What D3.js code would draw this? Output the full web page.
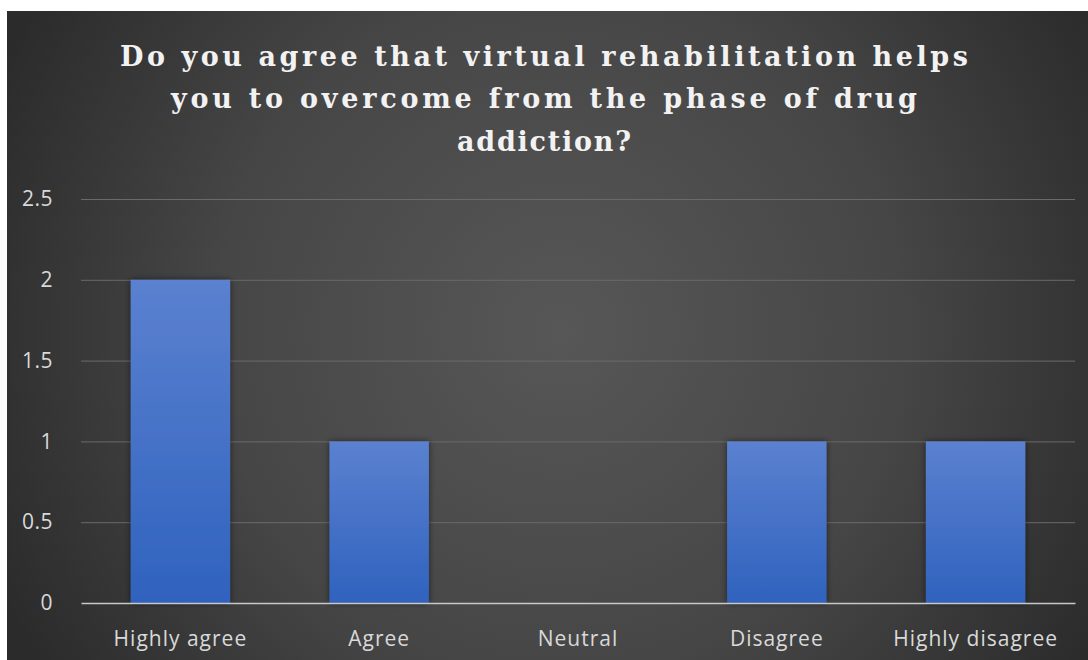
<!DOCTYPE html>
<html>
<head>
<meta charset="utf-8">
<script src="https://cdn.jsdelivr.net/npm/d3@7"></script>
<style>
  html, body { margin: 0; padding: 0; background: #ffffff; }
  svg { display: block; }
</style>
</head>
<body>
<svg id="chart" width="1088" height="660"></svg>
<script>
// Survey responses
const categories = ["Highly agree", "Agree", "Neutral", "Disagree", "Highly disagree"];
const values = [2, 1, 0, 1, 1];
const yTicks = [0, 0.5, 1, 1.5, 2, 2.5];
const titleLines = [
  "Do you agree that virtual rehabilitation helps",
  "you to overcome from the phase of drug",
  "addiction?"
];

const W = 1088, H = 660;
const panel = { x: 7, y: 11, w: W - 7, h: H - 11 };
const plot = { left: 81, right: 1075, top: 199, bottom: 603 };
const labelFont = "'Open Sans', 'Noto Sans', sans-serif";

const svg = d3.select("#chart");
const defs = svg.append("defs");

// dark panel background with soft light centre
const bg = defs.append("radialGradient")
  .attr("id", "bgGrad")
  .attr("gradientUnits", "userSpaceOnUse")
  .attr("cx", 560).attr("cy", 330).attr("r", 620);
bg.append("stop").attr("offset", "0%").attr("stop-color", "#575757");
bg.append("stop").attr("offset", "55%").attr("stop-color", "#464646");
bg.append("stop").attr("offset", "100%").attr("stop-color", "#2b2b2b");

// bar fill: lighter blue at the top, deeper at the base
const barGrad = defs.append("linearGradient")
  .attr("id", "barGrad").attr("x1", 0).attr("y1", 0).attr("x2", 0).attr("y2", 1);
barGrad.append("stop").attr("offset", "0%").attr("stop-color", "#5b81d0");
barGrad.append("stop").attr("offset", "100%").attr("stop-color", "#2f62be");

const shadow = defs.append("filter").attr("id", "barShadow")
  .attr("x", "-20%").attr("y", "-20%").attr("width", "140%").attr("height", "140%");
shadow.append("feDropShadow")
  .attr("dx", 0).attr("dy", 0).attr("stdDeviation", 3)
  .attr("flood-color", "#000000").attr("flood-opacity", 0.55);

svg.append("rect")
  .attr("x", panel.x).attr("y", panel.y)
  .attr("width", panel.w).attr("height", panel.h)
  .attr("fill", "url(#bgGrad)");

// scales
const x = d3.scaleBand()
  .domain(categories)
  .range([plot.left, plot.right])
  .paddingInner(0.5).paddingOuter(0.25);

const y = d3.scaleLinear()
  .domain([0, 2.5])
  .range([plot.bottom, plot.top]);

// horizontal gridlines
const grid = d3.axisLeft(y)
  .tickValues(yTicks.filter(v => v > 0))
  .tickSize(-(plot.right - plot.left))
  .tickFormat("");
svg.append("g")
  .attr("transform", `translate(${plot.left},0)`)
  .call(grid)
  .call(g => g.select(".domain").remove())
  .call(g => g.selectAll(".tick line")
    .attr("stroke", "#6a6a6a").attr("stroke-width", 1));

// y tick labels
const yAxis = d3.axisLeft(y)
  .tickValues(yTicks)
  .tickSize(0)
  .tickPadding(0)
  .tickFormat(d3.format("~g"));
svg.append("g")
  .attr("transform", `translate(53,0)`)
  .call(yAxis)
  .call(g => g.select(".domain").remove())
  .call(g => g.selectAll(".tick text")
    .attr("fill", "#d9d9d9")
    .attr("font-family", labelFont)
    .attr("font-size", 21)
    .attr("letter-spacing", 0.5));

// bars
svg.append("g")
  .selectAll("rect")
  .data(categories.map((c, i) => ({ c, v: values[i] })).filter(d => d.v > 0))
  .join("rect")
  .attr("x", d => x(d.c))
  .attr("width", x.bandwidth())
  .attr("y", d => y(d.v))
  .attr("height", d => y(0) - y(d.v))
  .attr("fill", "url(#barGrad)")
  .attr("filter", "url(#barShadow)");

// category axis
const xAxis = d3.axisBottom(x).tickSize(0).tickPadding(0);
svg.append("g")
  .attr("transform", `translate(0,${plot.bottom})`)
  .call(xAxis)
  .call(g => g.select(".domain")
    .attr("stroke", "#c8c8c8").attr("stroke-width", 1.6))
  .call(g => g.selectAll(".tick text")
    .attr("dy", 0)
    .attr("y", 43)
    .attr("fill", "#d9d9d9")
    .attr("font-family", labelFont)
    .attr("font-size", 21)
    .attr("letter-spacing", 1));

// title
const titleWidths = [848, 746, 174];
const titleBase = [66, 108, 151];
svg.append("g")
  .selectAll("text")
  .data(titleLines)
  .join("text")
  .attr("x", W / 2)
  .attr("y", (d, i) => titleBase[i])
  .attr("text-anchor", "middle")
  .attr("fill", "#f2f2f2")
  .attr("font-family", "'DejaVu Serif', 'Liberation Serif', serif")
  .attr("font-weight", "bold")
  .attr("font-size", 27)
  .attr("textLength", (d, i) => titleWidths[i])
  .attr("lengthAdjust", "spacing")
  .text(d => d);
</script>
</body>
</html>
